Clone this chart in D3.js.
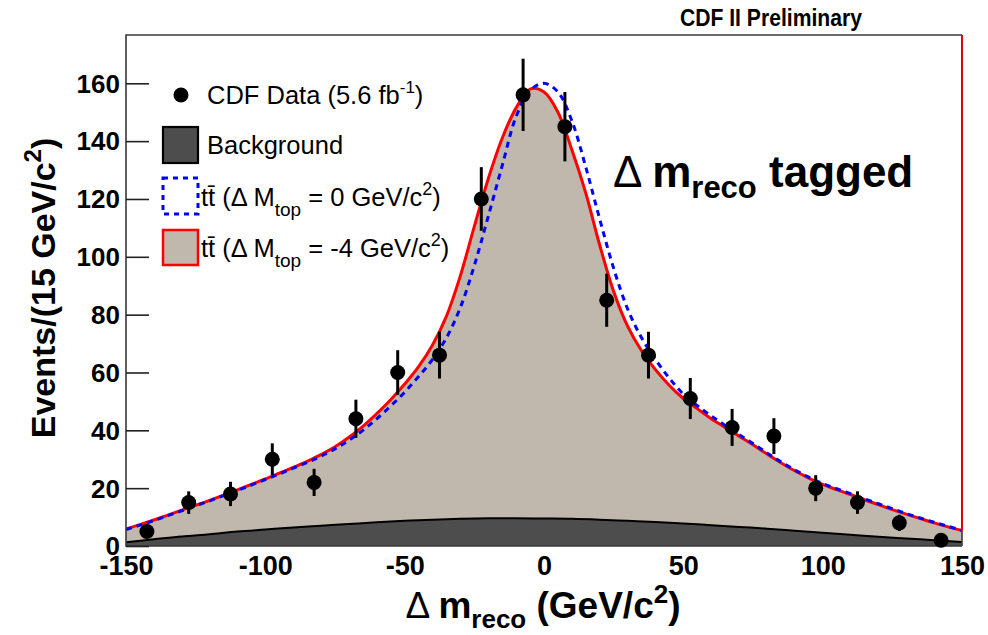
<!DOCTYPE html>
<html><head><meta charset="utf-8">
<script src="https://cdn.jsdelivr.net/npm/d3@7"></script>
<style>body{margin:0;background:#fff;}svg{display:block;font-family:"Liberation Sans",Arial,sans-serif;}</style>
</head><body>
<svg id="c" width="988" height="635"></svg>
<script>
// ---- data ----
const binCenters = [-142.5,-127.5,-112.5,-97.5,-82.5,-67.5,-52.5,-37.5,-22.5,-7.5,7.5,22.5,37.5,52.5,67.5,82.5,97.5,112.5,127.5,142.5];
const dataCounts = [5,15,18,30,22,44,60,66,120,156,145,85,66,51,41,38,20,15,8,2];
const dataErrors = [2.2,3.9,4.2,5.5,4.7,6.6,7.7,8.1,11,12.5,12,9.2,8.1,7.1,6.4,6.2,4.5,3.9,2.8,1.4];
const modelX = [-150,-145,-140,-135,-130,-125,-120,-115,-110,-105,-100,-95,-90,-85,-80,-75,-70,-65,-60,-55,-50,-45,-40,-35,-30,-25,-20,-15,-10,-5,0,5,10,15,20,25,30,35,40,45,50,55,60,65,70,75,80,85,90,95,100,105,110,115,120,125,130,135,140,145,150];
const ttbarMinus4 = [5.9,7.4,9.0,10.7,12.4,14.1,15.8,17.6,19.4,21.3,23.2,25.2,27.2,29.3,31.6,34.3,37.6,41.4,45.8,50.6,56.0,62.0,69.5,79.5,93.5,110.5,127.0,141.0,151.5,158.0,157.0,150.0,137.0,122.0,104.0,88.0,76.0,67.5,61.0,55.5,51.0,47.5,44.0,41.0,38.0,35.0,31.8,28.8,26.0,23.5,21.3,19.5,17.8,16.0,14.3,12.6,11.0,9.5,8.0,6.6,5.3];
const ttbarZero = [5.7,7.2,8.8,10.5,12.2,13.9,15.6,17.4,19.2,21.1,23.0,24.9,26.9,28.9,31.1,33.6,36.6,40.0,44.0,48.4,53.2,58.6,64.5,72.0,82.5,97.0,114.0,131.5,148.5,157.5,160.0,157.0,147.0,131.0,113.0,96.0,82.0,72.0,64.5,58.0,52.5,48.5,45.0,41.7,38.5,35.4,32.2,29.1,26.3,23.8,21.6,19.8,18.1,16.3,14.6,12.9,11.2,9.7,8.2,6.8,5.4];
const bkgX = [-150,-140,-130,-120,-110,-100,-90,-80,-70,-60,-50,-40,-30,-20,-10,0,10,20,30,40,50,60,70,80,90,100,110,120,130,140,150];
const bkgVals = [1.3,2.3,3.3,4.1,5.0,5.7,6.4,7.0,7.6,8.2,8.7,9.1,9.4,9.6,9.6,9.5,9.4,9.1,8.7,8.3,7.8,7.2,6.6,6.0,5.3,4.6,3.9,3.2,2.6,2.0,1.4];
const xTicks = [-150,-100,-50,0,50,100,150];
const yTicks = [0,20,40,60,80,100,120,140,160];

// ---- layout ----
const L=126,R=962,T=35,B=546;
const svg=d3.select("#c");
const x=d3.scaleLinear().domain([-150,150]).range([L,R]);
const y=d3.scaleLinear().domain([0,176.7]).range([B,T]);

const redPts=modelX.map((v,i)=>[v,ttbarMinus4[i]]);
const bluePts=modelX.map((v,i)=>[v,ttbarZero[i]]);
const bkgPts=bkgX.map((v,i)=>[v,bkgVals[i]]);

svg.append("clipPath").attr("id","pc").append("rect").attr("x",L).attr("y",T).attr("width",R-L).attr("height",B-T);
const g=svg.append("g").attr("clip-path","url(#pc)");

const cv=d3.curveCatmullRom.alpha(0.5);
const area=d3.area().x(d=>x(d[0])).y0(y(0)).y1(d=>y(d[1])).curve(cv);
const line=d3.line().x(d=>x(d[0])).y(d=>y(d[1])).curve(cv);

g.append("path").datum(redPts).attr("d",area).attr("fill","#c0b7ad");
g.append("path").datum(bkgPts).attr("d",area).attr("fill","#4d4d4d");
g.append("path").datum(bkgPts).attr("d",line).attr("fill","none").attr("stroke","#000").attr("stroke-width",2);
g.append("path").datum(redPts).attr("d",line).attr("fill","none").attr("stroke","#ff0000").attr("stroke-width",3);
g.append("path").datum(bluePts).attr("d",line).attr("fill","none").attr("stroke","#0000ff").attr("stroke-width",3).attr("stroke-dasharray","6,5");

// frame
svg.append("path").attr("d",`M${R},${B}H${L}V${T}H${R}`).attr("fill","none").attr("stroke","#3a3a3a").attr("stroke-width",1.6);
svg.append("line").attr("x1",R).attr("x2",R).attr("y1",T).attr("y2",y(ttbarMinus4[ttbarMinus4.length-1])).attr("stroke","#e00000").attr("stroke-width",2);
svg.append("line").attr("x1",R).attr("x2",R).attr("y1",y(ttbarMinus4[ttbarMinus4.length-1])).attr("y2",B).attr("stroke","#3a3a3a").attr("stroke-width",1.6);

// y axis ticks (inward)
const yAxis=d3.axisRight(y).tickValues(yTicks).tickSize(23).tickFormat("");
const ya=svg.append("g").attr("transform",`translate(${L},0)`).call(yAxis);
ya.select(".domain").remove();
ya.selectAll(".tick line").attr("stroke","#222").attr("stroke-width",1.6);
svg.append("g").selectAll("text").data(yTicks).join("text")
  .attr("x",120).attr("y",d=>y(d)).attr("dy","0.36em").attr("text-anchor","end")
  .attr("font-size",26).attr("font-weight","bold").text(d=>d);

// x labels
const xAxis=d3.axisBottom(x).tickValues(xTicks).tickSize(0).tickFormat(d=>d);
const xa=svg.append("g").attr("transform",`translate(0,${B})`).call(xAxis);
xa.select(".domain").remove();
xa.selectAll("text").attr("font-size",27).attr("font-weight","bold").attr("fill","#000").attr("font-family","Liberation Sans, Arial, sans-serif").attr("dy",null).attr("y",29);

// data points
const pts=svg.append("g");
pts.selectAll("line").data(binCenters).join("line")
  .attr("x1",(d)=>x(d)).attr("x2",d=>x(d))
  .attr("y1",(d,i)=>y(dataCounts[i]+dataErrors[i])).attr("y2",(d,i)=>y(Math.max(0,dataCounts[i]-dataErrors[i])))
  .attr("stroke","#000").attr("stroke-width",3);
pts.selectAll("circle").data(binCenters).join("circle")
  .attr("cx",d=>x(d)).attr("cy",(d,i)=>y(dataCounts[i])).attr("r",7.5).attr("fill","#000");

// legend
const lg=svg.append("g").attr("font-size",25.5).attr("fill","#000");
lg.append("circle").attr("cx",181).attr("cy",95).attr("r",7.5).attr("fill","#000");
const t1=lg.append("text").attr("x",207).attr("y",104);
t1.append("tspan").text("CDF Data (5.6 fb");
t1.append("tspan").attr("dy",-11).attr("font-size",17).text("-1");
t1.append("tspan").attr("dy",11).text(")");
lg.append("rect").attr("x",163).attr("y",127).attr("width",35).attr("height",36).attr("fill","#4d4d4d").attr("stroke","#000").attr("stroke-width",2.2);
lg.append("text").attr("x",207).attr("y",154).text("Background");
lg.append("rect").attr("x",163).attr("y",178).attr("width",35).attr("height",36).attr("fill","#fff").attr("stroke","#0000ff").attr("stroke-width",3).attr("stroke-dasharray","5,5");
lg.append("rect").attr("x",163).attr("y",230).attr("width",35).attr("height",35).attr("fill","#c0b7ad").attr("stroke","#ff0000").attr("stroke-width",2.5);
function ttLabel(yy,val){
  const t=lg.append("text").attr("x",201).attr("y",yy);
  t.append("tspan").text("tt\u0304 (\u0394 M");
  t.append("tspan").attr("dy",10).attr("font-size",19).text("top");
  t.append("tspan").attr("dy",-10).text(" = "+val+" GeV/c");
  t.append("tspan").attr("dy",-11).attr("font-size",18).text("2");
  t.append("tspan").attr("dy",11).text(")");
}
ttLabel(206,"0");
ttLabel(257,"-4");

// title texts
svg.append("text").attr("transform","translate(862,26) scale(0.92,1)").attr("text-anchor","end").attr("font-size",23).attr("font-weight","bold").text("CDF II Preliminary");
const big=svg.append("text").attr("x",613).attr("y",187).attr("font-size",44).attr("font-weight","bold");
big.append("tspan").attr("font-weight","normal").text("\u0394 ");
big.append("tspan").text("m");
big.append("tspan").attr("dy",11).attr("font-size",31).text("reco");
big.append("tspan").attr("dy",-11).text(" tagged");

// axis titles
const xt=svg.append("text").attr("x",543).attr("y",618).attr("text-anchor","middle").attr("font-size",37).attr("font-weight","bold");
xt.append("tspan").attr("font-weight","normal").text("\u0394 ");
xt.append("tspan").text("m");
xt.append("tspan").attr("dy",10).attr("font-size",26).text("reco");
xt.append("tspan").attr("dy",-10).text(" (GeV/c");
xt.append("tspan").attr("dy",-15).attr("font-size",26).text("2");
xt.append("tspan").attr("dy",15).text(")");

const yt=svg.append("text").attr("transform","translate(55,288) rotate(-90)").attr("text-anchor","middle").attr("font-size",34).attr("font-weight","bold");
yt.append("tspan").text("Events/(15 GeV/c");
yt.append("tspan").attr("dy",-14).attr("font-size",24).text("2");
yt.append("tspan").attr("dy",14).text(")");
</script>
</body></html>
